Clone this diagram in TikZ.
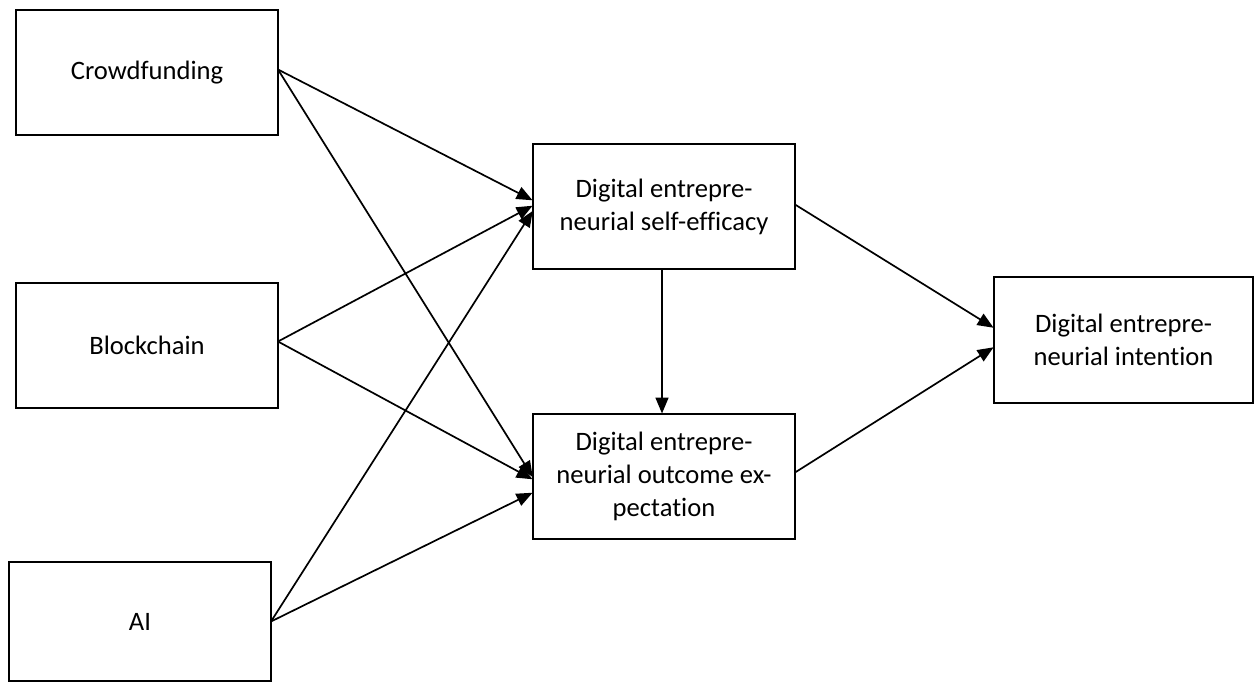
\documentclass[tikz,border=0pt]{standalone}
\usepackage{fontspec}
\setmainfont{Carlito}[Ligatures=NoCommon]
\usetikzlibrary{arrows.meta}
\begin{document}
\begin{tikzpicture}[x=1pt,y=-1pt,
  box/.style={draw=black, line width=2.4pt, fill=white, inner sep=0pt, outer sep=0pt,
    minimum width=262pt, minimum height=125pt, align=center,
    font=\fontsize{26.6}{33}\selectfont},
  link/.style={line width=1.7pt, -{Triangle[length=16pt,width=13pt]}, shorten >=0.5pt}]
\useasboundingbox (0,0) rectangle (1255,683);

% predictors
\node[box] (cf) at (147,72.5) {Crowdfunding};
\node[box] (bc) at (147,345.5) {Blockchain};
\node[box, minimum height=119pt] (ai) at (140,621.5) {AI};

% mediators
\node[box] (se) at (664,206.5) {Digital entrepre-\\neurial self-efficacy};
\node[box] (oe) at (664,476.5) {Digital entrepre-\\neurial outcome ex-\\pectation};

% outcome
\node[box, minimum width=259pt, minimum height=126pt] (di) at (1123.5,340) {Digital entrepre-\\neurial intention};

% paths into self-efficacy
\draw[link] ([yshift=3pt]cf.east) -- ([yshift=6pt]se.west);
\draw[link] ([yshift=4pt]bc.east) -- ([yshift=1pt]se.west);
\draw[link] (ai.east) -- ([yshift=-4pt]se.west);

% paths into outcome expectation
\draw[link] ([yshift=3pt]cf.east) -- ([yshift=-1pt]oe.west);
\draw[link] ([yshift=4pt]bc.east) -- ([yshift=-3pt]oe.west);
\draw[link] (ai.east) -- ([yshift=-16pt]oe.west);

% mediator links
\draw[link] ([xshift=-2pt]se.south) -- ([xshift=-2pt]oe.north);
\draw[link] ([yshift=2pt]se.east) -- ([yshift=12pt]di.west);
\draw[link] ([yshift=4pt]oe.east) -- ([yshift=-7pt]di.west);
\end{tikzpicture}
\end{document}
